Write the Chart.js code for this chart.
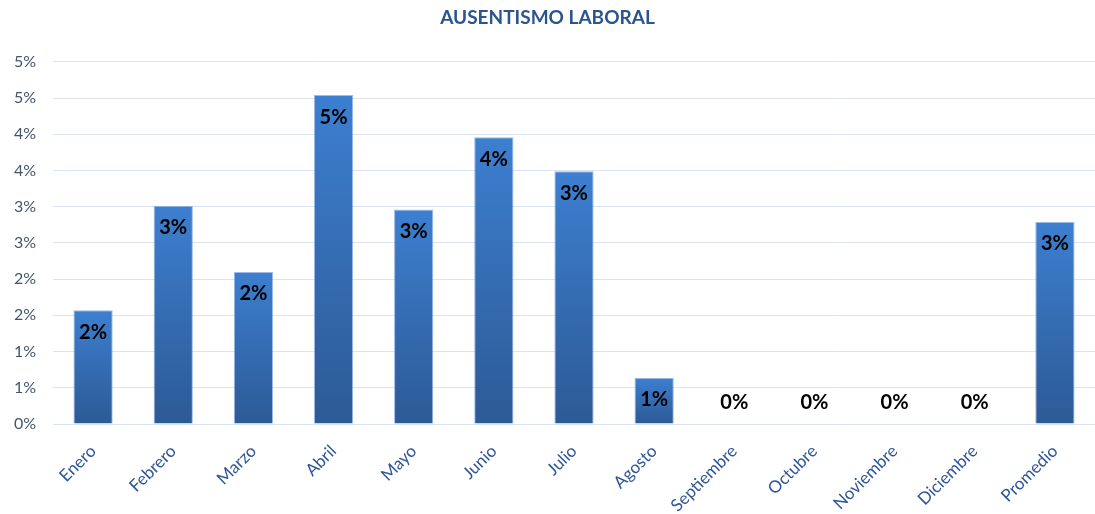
<!DOCTYPE html>
<html>
<head>
<meta charset="utf-8">
<script src="https://cdn.jsdelivr.net/npm/chart.js@4/dist/chart.umd.min.js"></script>
<style>
  html, body { margin: 0; padding: 0; background: #fff; }
  #wrap { width: 1095px; height: 514px; }
</style>
</head>
<body>
<div id="wrap"><canvas id="ausentismo"></canvas></div>
<script>
// datos (en %)
const meses = ['Enero', 'Febrero', 'Marzo', 'Abril', 'Mayo', 'Junio', 'Julio', 'Agosto',
  'Septiembre', 'Octubre', 'Noviembre', 'Diciembre', 'Promedio'];
const ausentismo = [1.57, 3.01, 2.10, 4.54, 2.96, 3.96, 3.49, 0.64, 0, 0, 0, 0, 2.79];
const ejeMax = 5;
const ejePaso = 0.5;

const fuente = 'Lato, "Open Sans", sans-serif';

// degradado por barra: claro arriba, oscuro abajo
function colorBarra(ctx) {
  const chart = ctx.chart;
  const y = chart.scales.y;
  if (!y || ctx.dataIndex === undefined) return '#3a75c0';
  const top = y.getPixelForValue(ausentismo[ctx.dataIndex]);
  const base = y.getPixelForValue(0);
  if (!isFinite(top) || !isFinite(base) || base - top < 1) return '#3a75c0';
  const g = chart.ctx.createLinearGradient(0, top, 0, base);
  g.addColorStop(0, '#3d7fd0');
  g.addColorStop(1, '#2c5a95');
  return g;
}

// etiquetas de datos dentro del extremo de la barra
const etiquetas = {
  id: 'etiquetas',
  afterDatasetsDraw(chart) {
    const c = chart.ctx;
    const base = chart.scales.y.getPixelForValue(0);
    c.save();
    c.font = 'bold 20px ' + fuente;
    c.fillStyle = '#000';
    c.textAlign = 'center';
    c.textBaseline = 'middle';
    chart.getDatasetMeta(0).data.forEach((bar, i) => {
      const y = Math.min(bar.y + 22, base - 21);
      c.fillText(Math.round(ausentismo[i]) + '%', bar.x, y);
    });
    c.restore();
  }
};

new Chart(document.getElementById('ausentismo'), {
  type: 'bar',
  data: {
    labels: meses,
    datasets: [{
      data: ausentismo,
      backgroundColor: colorBarra,
      borderColor: 'rgba(90,140,210,0.6)',
      borderWidth: { top: 1, left: 1, right: 1, bottom: 0 },
      categoryPercentage: 1,
      barPercentage: 0.49
    }]
  },
  options: {
    responsive: true,
    maintainAspectRatio: false,
    animation: false,
    layout: { padding: 0 },
    plugins: {
      legend: { display: false },
      tooltip: { enabled: false },
      title: {
        display: true,
        text: 'AUSENTISMO LABORAL',
        color: '#2a5490',
        font: { family: fuente, size: 19, weight: 'bold' },
        padding: { top: 6, bottom: 33 }
      }
    },
    scales: {
      x: {
        grid: { display: false },
        border: { display: false },
        ticks: {
          color: '#2f5597',
          font: { family: fuente, size: 17 },
          maxRotation: 45,
          minRotation: 45,
          autoSkip: false,
          padding: 9
        },
        afterFit(s) { s.height = 90; }
      },
      y: {
        min: 0,
        max: ejeMax,
        grid: { color: '#d9e4f2', lineWidth: 1, drawTicks: false },
        border: { display: false },
        ticks: {
          stepSize: ejePaso,
          color: '#44546a',
          font: { family: fuente, size: 16 },
          padding: 17,
          callback: v => Math.round(v) + '%'
        },
        afterFit(s) { s.width = 53; }
      }
    }
  },
  plugins: [etiquetas]
});
</script>
</body>
</html>
